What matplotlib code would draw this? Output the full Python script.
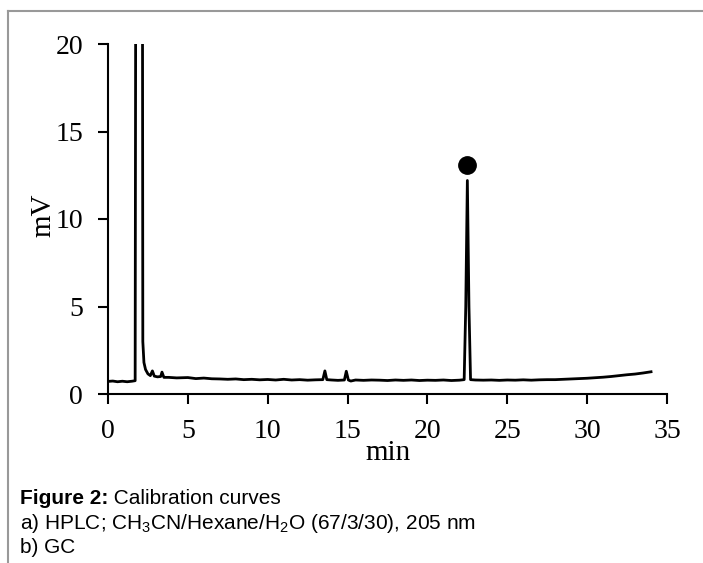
import matplotlib
matplotlib.use("Agg")
import matplotlib.pyplot as plt
from matplotlib.lines import Line2D

plt.rcParams['mathtext.fontset'] = 'custom'
plt.rcParams['mathtext.rm'] = 'Liberation Sans'
plt.rcParams['mathtext.it'] = 'Liberation Sans:italic'
plt.rcParams['mathtext.bf'] = 'Liberation Sans:bold'

# Chromatogram trace (time in min, signal in mV)
time_min = [0.0, 0.3, 0.6, 0.9, 1.2, 1.5, 1.7, 1.76, 1.8, 2.1, 2.14, 2.18, 2.25, 2.35,
            2.5, 2.65, 2.78, 2.9, 3.1, 3.3, 3.38, 3.5, 3.8, 4.3, 5.0, 5.5, 6.0, 6.5,
            7.0, 7.5, 8.0, 8.5, 9.0, 9.5, 10.0, 10.5, 11.0, 11.5, 12.0, 12.5, 13.0,
            13.45, 13.58, 13.7, 14.0, 14.4, 14.8, 14.92, 15.05, 15.2, 15.5, 16.0,
            16.5, 17.0, 17.5, 18.0, 18.5, 19.0, 19.5, 20.0, 20.5, 21.0, 21.5, 22.0,
            22.3, 22.4, 22.5, 22.6, 22.7, 23.0, 23.5, 24.0, 24.5, 25.0, 25.5, 26.0,
            26.5, 27.0, 27.5, 28.0, 28.5, 29.0, 29.5, 30.0, 30.5, 31.0, 31.5, 32.0,
            32.5, 33.0, 33.5, 34.0]
signal_mv = [0.72, 0.74, 0.70, 0.73, 0.70, 0.73, 0.76, 40.0, 45.0, 45.0, 40.0, 3.0, 1.8, 1.4,
             1.15, 1.05, 1.32, 1.02, 0.98, 1.00, 1.25, 0.95, 0.95, 0.92, 0.94, 0.88, 0.91, 0.87,
             0.86, 0.84, 0.86, 0.82, 0.84, 0.81, 0.83, 0.80, 0.84, 0.80, 0.82, 0.79, 0.81,
             0.82, 1.32, 0.82, 0.80, 0.78, 0.80, 1.30, 0.80, 0.74, 0.80, 0.78,
             0.80, 0.79, 0.77, 0.80, 0.78, 0.80, 0.77, 0.79, 0.78, 0.80, 0.77, 0.79,
             0.82, 5.0, 12.2, 5.0, 0.82, 0.80, 0.79, 0.80, 0.78, 0.80, 0.79, 0.81,
             0.79, 0.81, 0.82, 0.82, 0.84, 0.86, 0.88, 0.90, 0.93, 0.96, 1.00, 1.05,
             1.10, 1.14, 1.20, 1.27]

# Peak marker
marker_time = [22.5]
marker_mv = [13.1]

x_ticks = [0, 5, 10, 15, 20, 25, 30, 35]
y_ticks = [0, 5, 10, 15, 20]

caption_title = "Figure 2:"
caption_rest = " Calibration curves"
caption_a = r"a) HPLC; CH$_3$CN/Hexane/H$_2$O (67/3/30), 205 nm"
caption_b = "b) GC"

W, H = 703, 563
fig = plt.figure(figsize=(W / 100, H / 100), dpi=100)
fig.patch.set_facecolor('white')

ax = fig.add_axes([108 / W, 1 - 394 / H, 559 / W, 350 / H])
ax.plot(time_min, signal_mv, color='black', lw=2.0, solid_joinstyle='round')
ax.plot(marker_time, marker_mv, 'o', color='black', markersize=12.5)

ax.set_xlim(0, 35)
ax.set_ylim(0, 20)
ax.set_xticks(x_ticks)
ax.set_yticks(y_ticks)
for s in ['top', 'right']:
    ax.spines[s].set_visible(False)
for s in ['left', 'bottom']:
    ax.spines[s].set_linewidth(1.5)
ax.tick_params(direction='out', length=7, width=1.5, labelsize=20, pad=11)
for lab in ax.get_xticklabels() + ax.get_yticklabels():
    lab.set_fontfamily('Liberation Serif')

ax.set_xlabel('min', fontsize=21, family='Liberation Serif')
ax.set_ylabel('mV', fontsize=21, family='Liberation Serif')
ax.xaxis.set_label_coords(0.501, -0.1886)
ax.xaxis.label.set_va('baseline')
ax.yaxis.set_label_coords(-0.1154, 0.51)
ax.yaxis.label.set_va('center')

# Frame lines (gray) at top and left
fig.add_artist(Line2D([8 / W, 8 / W], [0, 1 - 11 / H], color='#999999', lw=1.5))
fig.add_artist(Line2D([8 / W, 1], [1 - 11 / H, 1 - 11 / H], color='#999999', lw=1.5))

# Caption
cx = 20 / W
t1 = fig.text(cx, 1 - 504 / H, caption_title, fontsize=15, fontweight='bold',
              family='Liberation Sans', va='baseline')
fig.canvas.draw()
bb = t1.get_window_extent()
fig.text(bb.x1 / W, 1 - 504 / H, caption_rest, fontsize=15, family='Liberation Sans',
         va='baseline')
fig.text(cx, 1 - 529 / H, caption_a, fontsize=15, family='Liberation Sans', va='baseline')
fig.text(cx, 1 - 553 / H, caption_b, fontsize=15, family='Liberation Sans', va='baseline')

fig.savefig('out.png', dpi=100, facecolor='white')
